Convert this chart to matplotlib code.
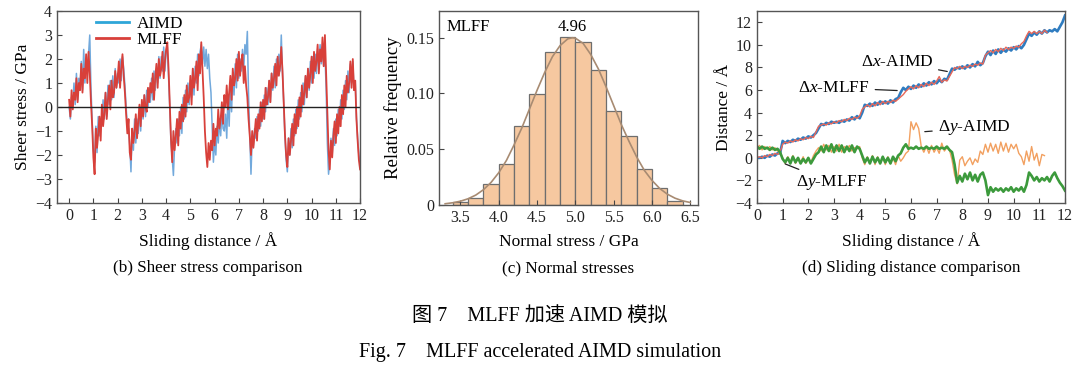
import matplotlib
matplotlib.use("Agg")
import matplotlib.pyplot as plt
import numpy as np

plt.rcParams.update({
    "font.family": ["Liberation Serif", "Noto Sans CJK SC"],
    "mathtext.fontset": "custom",
    "mathtext.rm": "Liberation Serif",
    "mathtext.it": "Liberation Serif:italic",
    "axes.edgecolor": "#555555",
    "axes.linewidth": 1.0,
    "xtick.direction": "in",
    "ytick.direction": "in",
    "xtick.color": "#444444",
    "ytick.color": "#444444",
    "xtick.labelcolor": "#222222",
    "ytick.labelcolor": "#222222",
    "xtick.labelsize": 11.5,
    "ytick.labelsize": 11.5,
})

# ---- (b) sheer stress, sampled every 0.05 A from 0 to 12 ----
stress_step = 0.05
stress_mlff = [
    0.3, -0.4, 0.7, -0.1, 0.6, 0.3, 1.2, 0.2, 1.0, 0.7, 1.8, 0.6, 1.6, 1.2, 2.2, 1.0, 2.3, 1.4, 0.2, -0.8,
    -2.1, -2.8, -0.9, -1.7, -1.1, -0.4, -1.4, 0.1, -0.8, -0.3, 0.6, -0.5, 0.3, 0.9, -0.1, 1.1, 0.4, 0.6, 1.5, 0.8,
    1.2, 1.9, 0.8, 1.6, 2.2, 1.3, 0.6, -0.3, -1.1, -0.5, -1.9, -2.2, -0.9, -1.5, -1.0, -0.3, -1.3, -0.6, 0.1, -0.8,
    0.3, -0.4, 0.5, 0.0, -0.2, 0.8, 0.2, 1.0, 0.6, 1.4, 0.3, 1.2, 1.8, 0.8, 2.0, 1.3, 1.6, 2.3, 1.2, 1.9,
    2.4, 2.7, 1.6, 0.1, -1.3, -2.3, -1.0, -1.8, -1.2, -0.5, -1.6, -0.2, -0.9, 0.1, -0.6, 0.5, -0.4, 0.9, 0.2, 0.4,
    1.3, 0.1, 1.6, 0.8, 1.2, 1.9, 0.7, 2.2, 1.4, 2.7, 1.6, 0.4, -1.0, -1.9, -2.5, -1.5, -2.2, -1.4, -1.8, -0.7,
    -1.6, -0.9, -1.2, -0.1, -0.9, -0.5, 0.2, -0.7, 0.5, 0.0, 0.9, -0.1, 0.6, 1.3, 0.3, 1.6, 0.9, 1.2, 2.0, 1.1,
    2.3, 1.3, 1.9, 2.2, 1.0, 1.7, 0.9, 0.4, -0.5, -1.2, -2.0, -1.0, -1.7, -1.1, -0.5, -1.4, -0.3, -0.9, 0.2, -0.6,
    0.3, -0.5, 0.8, 0.1, 0.4, 1.1, 0.2, 1.4, 0.8, 1.2, 1.8, 0.9, 2.1, 1.3, 1.7, 2.5, 1.5, 0.2, -1.1, -2.0,
    -2.5, -1.3, -2.0, -1.4, -0.7, -1.6, -0.3, -1.1, 0.0, -0.8, 0.4, -0.4, 0.9, 0.1, 0.6, 1.3, 0.4, 1.6, 0.8, 1.4,
    2.1, 1.0, 2.3, 1.5, 1.9, 2.6, 1.4, 2.4, 1.9, 2.9, 1.7, 3.0, 1.4, -0.3, -1.8, -2.6, -1.4, -2.1, -1.2, -0.6,
    -1.5, -0.3, -1.1, 0.0, -0.8, 0.5, -0.3, 0.9, 0.0, 1.3, 0.6, 1.0, 1.9, 0.8, 2.0, 0.7, 1.1, -0.5, -1.4, -2.2,
    -2.6,
]
stress_aimd = [
    0.0, -0.5, 0.4, 0.2, 1.0, 0.1, 1.4, 0.3, 1.2, 0.8, 1.9, 0.7, 2.4, 1.0, 1.8, 1.6, 2.2, 3.0, 0.8, -0.6,
    -1.8, -2.3, -0.8, -1.9, -0.4, -1.2, -0.5, -0.7, 0.3, -0.5, 0.6, -0.4, 0.9, 0.1, 1.1, 0.3, 1.3, 0.4, 1.6, 0.8,
    1.4, 1.0, 2.0, 1.1, 2.1, 1.6, 0.9, 0.0, -0.8, -0.9, -1.6, -2.7, -0.9, -1.8, -0.5, -1.5, -0.5, -1.1, 0.0, -1.0,
    0.2, -0.5, 0.5, -0.4, 0.7, 0.0, 0.8, 0.2, 1.2, 0.3, 1.5, 0.7, 1.6, 1.0, 2.1, 1.2, 2.1, 1.5, 2.5, 1.5,
    2.3, 2.5, 1.3, 0.0, -1.5, -2.1, -2.85, -1.6, -0.9, -1.5, -0.5, -1.2, 0.0, -1.1, 0.4, -0.5, 0.7, -0.2, 1.0, 0.1,
    1.1, 0.4, 1.6, 0.5, 1.7, 1.0, 2.2, 1.3, 2.3, 2.6, 1.8, 2.5, 1.7, 2.4, 1.6, 2.2, 1.2, 0.6, -0.8, -2.3,
    -1.4, -2.0, -0.8, -1.5, -0.5, -1.2, -0.2, -0.9, -1.0, -0.3, -1.3, 0.5, -0.8, 1.0, -0.2, 1.4, 0.5, 1.8, 0.8, 2.2,
    1.2, 2.0, 1.5, 2.4, 1.6, 2.6, 2.2, 3.15, 0.5, -1.2, -2.8, -1.3, -1.6, -0.9, -1.3, -0.4, -1.0, -0.1, -0.8, 0.2,
    -0.5, 0.5, -0.2, 0.8, 0.1, 1.1, 0.2, 1.4, 0.7, 1.7, 0.8, 2.0, 1.3, 2.2, 1.5, 3.0, 1.4, 0.2, -1.2, -2.2,
    -2.7, -1.3, -2.0, -0.9, -1.7, -0.5, -1.2, -0.1, -0.9, 0.3, -0.5, 0.6, -0.2, 1.0, 0.1, 1.3, 0.4, 1.6, 0.7, 1.9,
    1.0, 2.1, 1.2, 2.2, 1.4, 2.4, 1.6, 2.6, 1.8, 2.5, 1.7, 2.2, 0.8, -1.5, -2.8, -2.2, -1.3, -2.0, -0.9, -1.6,
    -0.5, -1.2, -0.1, -0.8, 0.3, -0.5, 0.7, -0.1, 1.1, 0.3, 1.5, 0.6, 1.8, 1.0, 1.9, 0.7, 1.1, -0.4, -1.3, -2.0,
    -2.4,
]

# ---- (c) normal stress histogram (bin width 0.2 GPa) ----
bin_edges = [3.4, 3.6, 3.8, 4.0, 4.2, 4.4, 4.6, 4.8, 5.0, 5.2, 5.4, 5.6, 5.8, 6.0, 6.2, 6.4]
rel_freq = [0.0024, 0.006, 0.0185, 0.037, 0.071, 0.0995, 0.1375, 0.1506,
            0.146, 0.121, 0.084, 0.062, 0.032, 0.015, 0.0036]
fit_x = [3.3, 3.4, 3.5, 3.6, 3.7, 3.8, 3.9, 4.0, 4.1, 4.2, 4.3, 4.4, 4.5, 4.6, 4.7, 4.8,
         4.9, 4.96, 5.0, 5.1, 5.2, 5.3, 5.4, 5.5, 5.6, 5.7, 5.8, 5.9, 6.0, 6.1, 6.2, 6.3, 6.4, 6.5]
fit_y = [0.0011, 0.002, 0.0034, 0.0056, 0.0089, 0.0137, 0.0203, 0.029, 0.040, 0.054, 0.069,
         0.086, 0.103, 0.119, 0.133, 0.143, 0.149, 0.150, 0.1496, 0.145, 0.135, 0.122, 0.106,
         0.089, 0.072, 0.057, 0.043, 0.031, 0.022, 0.0148, 0.0097, 0.0061, 0.0037, 0.0022]
mean_label = "4.96"

# ---- (d) sliding distance, sampled every 0.1 A ----
dist_step = 0.1
dx_mlff = [
    0.0, 0.0, 0.1, 0.0, 0.2, 0.1, 0.3, 0.2, 0.4, 0.4,
    1.5, 1.3, 1.5, 1.4, 1.6, 1.5, 1.7, 1.6, 1.8, 1.7,
    1.9, 1.8, 2.0, 2.2, 2.6, 3.0, 2.9, 3.1, 3.0, 3.2,
    3.1, 3.2, 3.1, 3.3, 3.2, 3.4, 3.3, 3.6, 3.4, 3.7,
    3.5, 4.0, 4.7, 4.6, 4.8, 4.6, 4.9, 4.7, 5.0, 4.8,
    5.0, 4.8, 5.1, 4.9, 5.2, 5.3, 5.8, 6.2, 6.0, 6.3,
    6.1, 6.4, 6.2, 6.5, 6.3, 6.6, 6.4, 6.7, 6.5, 6.8,
    6.6, 6.9, 6.7, 7.0, 6.9, 7.4, 7.9, 7.8, 8.0, 7.9,
    8.1, 7.9, 8.2, 8.0, 8.3, 8.1, 8.5, 8.2, 8.4, 9.0,
    9.4, 9.1, 9.5, 9.2, 9.6, 9.3, 9.6, 9.4, 9.7, 9.5,
    9.8, 9.6, 9.9, 9.7, 10.0, 10.5, 11.0, 10.8, 11.1, 10.9,
    11.2, 11.0, 11.3, 11.1, 11.3, 11.2, 11.4, 11.2, 11.6, 12.0,
    12.6,
]
dx_aimd = [
    0.0, 0.1, 0.0, 0.2, 0.1, 0.3, 0.2, 0.4, 0.3, 0.5,
    1.2, 1.4, 1.3, 1.5, 1.4, 1.6, 1.5, 1.7, 1.6, 1.8,
    1.7, 1.9, 1.8, 2.3, 2.8, 2.9, 3.0, 2.9, 3.1, 3.0,
    3.2, 3.1, 3.3, 3.2, 3.4, 3.3, 3.5, 3.4, 3.6, 3.5,
    3.7, 4.3, 4.5, 4.7, 4.5, 4.8, 4.6, 4.9, 4.7, 5.0,
    4.8, 5.0, 4.9, 5.1, 5.0, 5.2, 5.4, 5.6, 5.9, 6.1,
    6.3, 6.1, 6.4, 6.2, 6.5, 6.3, 6.6, 6.4, 6.7, 6.5,
    6.8, 7.2, 6.7, 6.9, 6.8, 7.2, 7.6, 8.0, 7.9, 8.1,
    7.9, 8.1, 8.0, 8.2, 8.1, 8.3, 8.2, 8.4, 8.3, 9.1,
    9.3, 9.5, 9.3, 9.6, 9.4, 9.7, 9.5, 9.8, 9.6, 9.8,
    9.7, 9.9, 9.8, 10.1, 10.3, 10.8, 11.2, 11.0, 11.2, 11.0,
    11.2, 11.0, 11.3, 11.1,
]
dy_mlff = [
    1.0, 0.8, 1.0, 0.8, 0.9, 0.7, 0.9, 0.7, 0.8, 0.5,
    -0.1, -0.4, 0.0, -0.5, 0.1, -0.4, 0.0, -0.5, -0.1, -0.4,
    0.0, -0.5, -0.1, 0.3, 0.5, 1.0, 0.5, 1.1, 0.6, 1.2,
    0.5, 1.1, 0.6, 1.1, 0.5, 1.0, 0.6, 1.1, 0.5, 1.0,
    0.8, 0.2, -0.4, 0.0, -0.5, 0.1, -0.4, 0.0, -0.5, 0.1,
    -0.4, 0.0, -0.5, 0.1, -0.3, 0.2, 0.4, 0.9, 1.2, 0.8,
    0.9, 0.8, 1.0, 0.8, 0.9, 0.8, 1.0, 0.8, 0.9, 0.8,
    1.0, 0.8, 0.9, 0.8, 1.0, 0.7, 0.5, -0.6, -2.2, -1.6,
    -2.1, -1.4, -1.9, -1.3, -2.0, -1.5, -2.1, -1.5, -1.3, -2.0,
    -3.3, -2.6, -3.0, -2.7, -2.9, -2.7, -3.0, -2.7, -2.9, -2.6,
    -3.0, -2.7, -2.9, -2.6, -3.0, -2.4, -1.3, -1.6, -2.0, -1.7,
    -2.1, -1.8, -2.0, -1.7, -2.1, -1.6, -1.3, -1.8, -2.2, -2.5,
    -2.9,
]
dy_aimd = [
    0.9, 1.1, 0.7, 1.0, 0.8, 1.0, 0.7, 0.9, 0.6, 0.5,
    0.0, -0.5, 0.1, -0.4, 0.2, -0.5, 0.0, -0.4, 0.1, -0.5,
    -0.1, -0.4, 0.2, 0.6, 0.9, 0.6, 1.2, 0.7, 1.1, 0.5,
    1.0, 0.6, 1.2, 0.5, 1.0, 0.7, 1.1, 0.6, 0.9, 0.8,
    1.0, 0.0, -0.6, 0.1, -0.5, 0.2, -0.6, 0.1, -0.5, 0.0,
    -0.6, 0.1, -0.5, 0.0, -0.6, 0.2, -0.3, 0.0, 0.4, 0.6,
    3.2, 2.5, 3.1, 2.6, 1.0, 0.5, 1.0, 0.4, 1.1, 0.5,
    0.9, 0.4, 1.3, 0.6, 0.9, 0.7, -0.2, -1.5, -2.3, -0.2,
    0.1, -0.7, -0.3, 0.0, -0.6, -0.1, -0.4, 0.6, 0.3, 1.2,
    0.5, 1.3, 0.6, 1.2, 0.4, 1.4, 0.6, 1.3, 0.5, 1.2,
    0.8, 1.2, 0.4, 0.1, -0.6, 0.6, -0.3, 1.0, -0.2, 0.4,
    -0.7, 0.3, 0.2,
]

fig = plt.figure(figsize=(10.8, 3.65), dpi=100)

# ---------------- (b) ----------------
ax1 = fig.add_axes([0.0528, 0.4438, 0.2806, 0.526])
xs = np.arange(len(stress_aimd)) * stress_step
ax1.plot(xs, stress_aimd, color="#72a9dc", lw=1.1, label="AIMD")
ax1.plot(xs, stress_mlff, color="#d8403a", lw=1.3, label="MLFF")
ax1.axhline(0, color="#222222", lw=1.0)
ax1.set_xlim(-0.5, 12)
ax1.set_ylim(-4, 4)
ax1.set_xticks(range(0, 13))
ax1.set_yticks(range(-4, 5))
ax1.set_xlabel("Sliding distance / Å", fontsize=12.5, labelpad=6)
ax1.set_ylabel("Sheer stress / GPa", fontsize=12.5, labelpad=3)
leg = ax1.legend(loc="upper left", bbox_to_anchor=(0.09, 1.04), frameon=False,
                 fontsize=12.5, handlelength=1.9, handletextpad=0.4,
                 labelspacing=0.02, borderpad=0.2)
leg.get_lines()[0].set_color("#2ea6d8")
leg.get_lines()[0].set_linewidth(2)
leg.get_lines()[1].set_linewidth(2)

# ---------------- (c) ----------------
ax2 = fig.add_axes([0.4065, 0.4384, 0.2398, 0.5315])
ax2.bar(bin_edges[:-1], rel_freq, width=np.diff(bin_edges), align="edge",
        color="#f6c8a0", edgecolor="#6e6e6e", linewidth=0.9)
ax2.plot(fit_x, fit_y, color="#a88b72", lw=1.2)
ax2.set_xlim(3.22, 6.6)
ax2.set_ylim(0, 0.174)
ax2.set_xticks([3.5, 4.0, 4.5, 5.0, 5.5, 6.0, 6.5])
ax2.set_xticklabels(["3.5", "4.0", "4.5", "5.0", "5.5", "6.0", "6.5"])
ax2.set_yticks([0, 0.05, 0.10, 0.15])
ax2.set_yticklabels(["0", "0.05", "0.10", "0.15"])
ax2.text(0.03, 0.96, "MLFF", transform=ax2.transAxes, ha="left", va="top", fontsize=12)
ax2.text(4.96, 0.1596, mean_label, ha="center", va="center", fontsize=12)
ax2.set_xlabel("Normal stress / GPa", fontsize=12.5, labelpad=6)
ax2.set_ylabel("Relative frequency", fontsize=13.5, labelpad=3)

# ---------------- (d) ----------------
ax3 = fig.add_axes([0.7009, 0.4438, 0.2852, 0.526])
x_mlff = np.arange(len(dx_mlff)) * dist_step
x_aimd = np.arange(len(dx_aimd)) * dist_step
xy_aimd = np.arange(len(dy_aimd)) * dist_step
ax3.plot(x_mlff, dx_mlff, color="#2f7cc0", lw=1.9)
ax3.plot(x_aimd, dx_aimd, color="#e8685a", lw=1.0)
ax3.plot(xy_aimd, dy_aimd, color="#f2a060", lw=1.0)
ax3.plot(x_mlff, dy_mlff, color="#3c9a3c", lw=1.9)
ax3.set_xlim(0, 12)
ax3.set_ylim(-4, 13)
ax3.set_xticks(range(0, 13))
ax3.set_yticks(range(-4, 13, 2))
ax3.set_xlabel("Sliding distance / Å", fontsize=12.5, labelpad=6)
ax3.set_ylabel("Distance / Å", fontsize=12.5, labelpad=2)
arrow = dict(arrowstyle="-", color="#222222", lw=0.9)
ax3.annotate(r"$\Delta x$-AIMD", xy=(7.52, 7.6), xytext=(5.45, 8.5), ha="center", va="center",
             fontsize=12.5, arrowprops=arrow)
ax3.annotate(r"$\Delta x$-MLFF", xy=(5.57, 5.95), xytext=(3.0, 6.2), ha="center", va="center",
             fontsize=12.5, arrowprops=arrow)
ax3.annotate(r"$\Delta y$-AIMD", xy=(6.43, 2.3), xytext=(8.45, 2.65), ha="center", va="center",
             fontsize=12.5, arrowprops=arrow)
ax3.annotate(r"$\Delta y$-MLFF", xy=(1.0, -0.45), xytext=(2.93, -2.2), ha="center", va="center",
             fontsize=12.5, arrowprops=arrow)

# ---------------- captions ----------------
fig.text(208 / 1080, 1 - 268 / 365, "(b) Sheer stress comparison", ha="center", va="center", fontsize=12.3)
fig.text(568 / 1080, 1 - 268 / 365, "(c) Normal stresses", ha="center", va="center", fontsize=12.3)
fig.text(911 / 1080, 1 - 268 / 365, "(d) Sliding distance comparison", ha="center", va="center", fontsize=12.3)
fig.text(0.5, 1 - 316 / 365, "图 7　MLFF 加速 AIMD 模拟", ha="center", va="center", fontsize=14.5,
         family=["Liberation Serif", "Noto Sans CJK SC"])
fig.text(0.5, 1 - 352 / 365, "Fig. 7　MLFF accelerated AIMD simulation", ha="center", va="center",
         fontsize=14.5, family=["Liberation Serif", "Noto Sans CJK SC"])

fig.savefig("out.png", dpi=100)
